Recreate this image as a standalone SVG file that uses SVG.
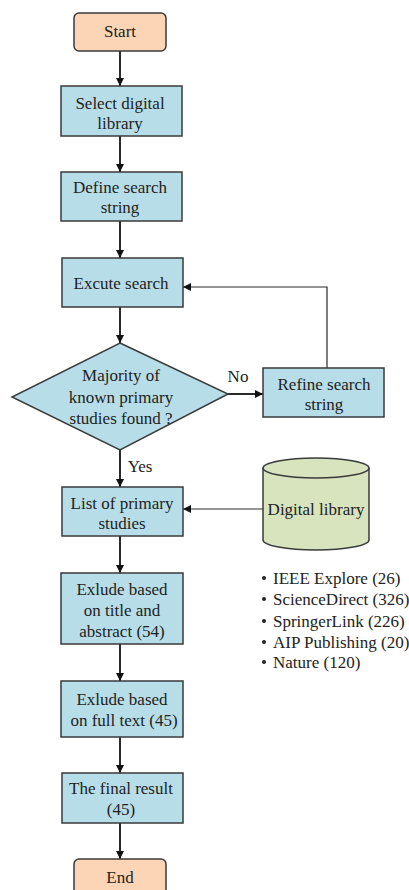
<svg xmlns="http://www.w3.org/2000/svg" width="409" height="890" viewBox="0 0 409 890">
<defs>
<style>
.box{fill:#B7DEE8;stroke:#3a3a3a;stroke-width:1.5}
.term{fill:#FBD5B5;stroke:#3a3a3a;stroke-width:1.5}
.db{fill:#D7E4BD;stroke:#3a3a3a;stroke-width:1.5}
text{font-family:'Liberation Serif','Times New Roman',Times,serif;font-size:17px;fill:#222;text-anchor:middle}
.lst{text-anchor:start}
.c{fill:none;stroke:#2a2a2a;stroke-width:2}
.t{fill:none;stroke:#2a2a2a;stroke-width:1.2}
</style>
<marker id="ah" viewBox="0 0 10 10" refX="10" refY="5" markerWidth="8" markerHeight="8" markerUnits="userSpaceOnUse" orient="auto">
<path d="M0,0 L10,5 L0,10 z" fill="#111"/>
</marker>
</defs>
<g id="connectors">
<line class="c" x1="120" y1="51" x2="120" y2="86" marker-end="url(#ah)"/>
<line class="c" x1="120" y1="136" x2="120" y2="172" marker-end="url(#ah)"/>
<line class="c" x1="120" y1="221" x2="120" y2="258" marker-end="url(#ah)"/>
<line class="c" x1="120" y1="307" x2="120" y2="343" marker-end="url(#ah)"/>
<line class="c" x1="228" y1="394" x2="263" y2="394" marker-end="url(#ah)"/>
<polyline class="t" points="327,368 327,287 183,287" marker-end="url(#ah)"/>
<line class="c" x1="120" y1="450" x2="120" y2="487" marker-end="url(#ah)"/>
<line class="t" x1="263" y1="509" x2="183" y2="509" marker-end="url(#ah)"/>
<line class="c" x1="120" y1="536" x2="120" y2="573" marker-end="url(#ah)"/>
<line class="c" x1="120" y1="644" x2="120" y2="681" marker-end="url(#ah)"/>
<line class="c" x1="120" y1="737" x2="120" y2="773" marker-end="url(#ah)"/>
<line class="c" x1="120" y1="823" x2="120" y2="859" marker-end="url(#ah)"/>
<text x="238" y="382">No</text>
<text x="140" y="472">Yes</text>
</g>
<g id="start"><rect class="term" x="74" y="13" width="92" height="38" rx="5"/><text x="120" y="37">Start</text></g>
<g id="select"><rect class="box" x="61" y="86" width="121" height="50"/><text x="120" y="109">Select digital</text><text x="120" y="129">library</text></g>
<g id="define"><rect class="box" x="61" y="172" width="121" height="49"/><text x="120" y="193">Define search</text><text x="120" y="213">string</text></g>
<g id="execute"><rect class="box" x="62" y="258" width="121" height="49"/><text x="121" y="289">Excute search</text></g>
<g id="decision"><polygon class="box" points="120,343 228,394 120,450 12,397"/><text x="121" y="381">Majority of</text><text x="121" y="403">known primary</text><text x="121" y="424">studies found ?</text></g>
<g id="refine"><rect class="box" x="263" y="368" width="121" height="49"/><text x="324" y="390">Refine search</text><text x="324" y="410">string</text></g>
<g id="list"><rect class="box" x="62" y="487" width="121" height="49"/><text x="122" y="509">List of primary</text><text x="122" y="529">studies</text></g>
<g id="digital-library">
<path class="db" d="M263,468 L263,540 A53,10 0 0 0 369,540 L369,468"/>
<ellipse class="db" cx="316" cy="468" rx="53" ry="10"/>
<text x="316" y="515">Digital library</text>
</g>
<g id="sources">
<circle cx="264" cy="578" r="2" fill="#222"/><text class="lst" x="273" y="584">IEEE Explore (26)</text>
<circle cx="264" cy="599" r="2" fill="#222"/><text class="lst" x="273" y="605">ScienceDirect (326)</text>
<circle cx="264" cy="621" r="2" fill="#222"/><text class="lst" x="273" y="627">SpringerLink (226)</text>
<circle cx="264" cy="642" r="2" fill="#222"/><text class="lst" x="273" y="648">AIP Publishing (20)</text>
<circle cx="264" cy="662" r="2" fill="#222"/><text class="lst" x="273" y="668">Nature (120)</text>
</g>
<g id="exclude-title"><rect class="box" x="61" y="573" width="122" height="71"/><text x="122" y="595">Exlude based</text><text x="122" y="616">on title and</text><text x="122" y="637">abstract (54)</text></g>
<g id="exclude-full"><rect class="box" x="61" y="681" width="122" height="56"/><text x="122" y="705">Exlude based</text><text x="124" y="726">on full text (45)</text></g>
<g id="final"><rect class="box" x="62" y="773" width="121" height="50"/><text x="121" y="794">The final result</text><text x="121" y="815">(45)</text></g>
<g id="end"><rect class="term" x="74" y="859" width="92" height="40" rx="5"/><text x="120" y="883">End</text></g>
</svg>
